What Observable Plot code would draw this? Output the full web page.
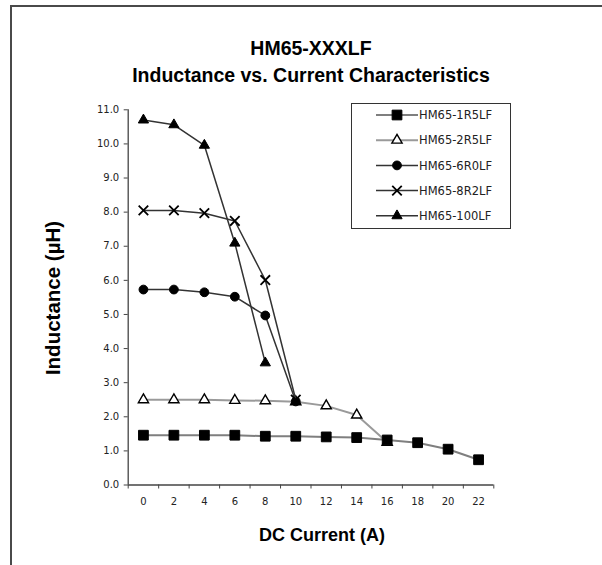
<!DOCTYPE html>
<html><head><meta charset="utf-8">
<script src="https://cdn.jsdelivr.net/npm/d3@7"></script>
<script src="https://cdn.jsdelivr.net/npm/@observablehq/plot@0.6"></script>
<style>
body{margin:0;background:#fff;}
#wrap{position:relative;width:602px;height:565px;overflow:hidden;background:#fff;font-family:"Liberation Sans",Arial,sans-serif;}
#frame{position:absolute;left:10px;top:5px;width:800px;height:800px;border-left:2px solid #4a4a4a;border-top:2px solid #4a4a4a;}
.title{position:absolute;left:11px;width:600px;text-align:center;font-weight:bold;font-size:19.5px;line-height:22px;color:#000;}
#xt{position:absolute;left:222px;width:200px;top:524px;text-align:center;font-weight:bold;font-size:18px;line-height:22px;}
#yt{position:absolute;left:-47px;top:287px;width:200px;text-align:center;font-weight:bold;font-size:20.5px;line-height:22px;transform:rotate(-90deg);}
#plot{position:absolute;left:0;top:95px;}
#legend{position:absolute;left:351px;top:103px;}
</style></head>
<body>
<div id="wrap">
  <div id="frame"></div>
  <div class="title" style="top:37px">HM65-XXXLF</div>
  <div class="title" style="top:64px">Inductance vs. Current Characteristics</div>
  <div id="plot"></div>
  <div id="xt">DC Current (A)</div>
  <div id="yt">Inductance (µH)</div>
  <div id="legend"></div>
</div>
<script>
// ---- data ----
const current = [0, 2, 4, 6, 8, 10, 12, 14, 16, 18, 20, 22];
const s1R5 = [1.46, 1.46, 1.46, 1.46, 1.43, 1.43, 1.41, 1.39, 1.32, 1.24, 1.05, 0.74];
const s2R5 = [2.50, 2.50, 2.50, 2.48, 2.47, 2.44, 2.32, 2.05, 1.25];
const s6R0 = [5.73, 5.73, 5.65, 5.52, 4.97, 2.45];
const s8R2 = [8.05, 8.05, 7.97, 7.74, 6.01, 2.50];
const s100 = [10.70, 10.56, 9.96, 7.09, 3.58];
const seriesNames = ["HM65-1R5LF", "HM65-2R5LF", "HM65-6R0LF", "HM65-8R2LF", "HM65-100LF"];
const xTicks = [0, 2, 4, 6, 8, 10, 12, 14, 16, 18, 20, 22];
const yTicks = [0, 1, 2, 3, 4, 5, 6, 7, 8, 9, 10, 11];

// ---- styles ----
const seriesValues = [s1R5, s2R5, s6R0, s8R2, s100];
const styles = [
  {symbol: "square",   r: 5.5, fill: "#000", stroke: "#000", sw: 1,   line: "#7f7f7f", lw: 2},
  {symbol: "triangle", r: 3.8, fill: "#fff", stroke: "#000", sw: 1.4, line: "#9a9a9a", lw: 2},
  {symbol: "circle",   r: 4.4, fill: "#000", stroke: "#000", sw: 1,   line: "#333",    lw: 1.5},
  {symbol: "times",    r: 4.4, fill: "none", stroke: "#000", sw: 1.8, line: "#333",    lw: 1.5},
  {symbol: "triangle", r: 3.8, fill: "#000", stroke: "#000", sw: 1,   line: "#333",    lw: 1.5}
];
const series = seriesNames.map((name, k) => ({
  name, style: styles[k],
  rows: seriesValues[k].map((v, i) => ({x: current[i], y: v}))
}));
// draw order (2R5 below 1R5)
const order = [1, 0, 2, 3, 4];

const boundaries = xTicks.map(d => d - 1).concat([xTicks[xTicks.length - 1] + 1]);

const marks = [
  Plot.axisY({ticks: yTicks, tickFormat: d => d.toFixed(1), tickSize: 4, tickPadding: 5, label: null, stroke: "#444"}),
  Plot.axisX({ticks: xTicks, tickSize: 0, tickPadding: 13, label: null}),
  Plot.axisX({ticks: boundaries, tickFormat: () => "", tickSize: 4, label: null, stroke: "#444"}),
  Plot.ruleY([0], {stroke: "#444", strokeWidth: 1.3}),
  Plot.ruleX([boundaries[0]], {stroke: "#444", strokeWidth: 1.3})
];
for (const k of order) {
  const s = series[k];
  marks.push(Plot.line(s.rows, {x: "x", y: "y", stroke: s.style.line, strokeWidth: s.style.lw}));
  marks.push(Plot.dot(s.rows, {x: "x", y: "y", symbol: () => s.style.symbol, r: s.style.r,
    fill: s.style.fill, stroke: s.style.stroke, strokeWidth: s.style.sw}));
}

const chart = Plot.plot({
  width: 602, height: 470,
  marginLeft: 127.7, marginRight: 108.7, marginTop: 14.3, marginBottom: 80.5,
  x: {type: "linear", domain: [boundaries[0], boundaries[boundaries.length - 1]]},
  y: {domain: [0, 11]},
  symbol: {type: "identity"},
  style: {fontFamily: "DejaVu Sans", fontSize: "10px", color: "#222", background: "transparent", overflow: "visible"},
  marks
});
document.getElementById("plot").appendChild(chart);

// ---- legend ----
const lw = 160, lh = 126;
const leg = d3.create("svg").attr("width", lw).attr("height", lh);
leg.append("rect").attr("x", 0.5).attr("y", 0.5).attr("width", lw - 1).attr("height", lh - 1)
  .attr("fill", "#fff").attr("stroke", "#333").attr("stroke-width", 1);
const symMap = {square: d3.symbolSquare, triangle: d3.symbolTriangle, circle: d3.symbolCircle, times: d3.symbolTimes};
series.forEach((s, k) => {
  const cy = 12 + k * 25.2;
  const g = leg.append("g");
  g.append("line").attr("x1", 25).attr("x2", 67).attr("y1", cy).attr("y2", cy)
    .attr("stroke", s.style.line).attr("stroke-width", s.style.lw);
  g.append("path").attr("transform", `translate(46,${cy})`)
    .attr("d", d3.symbol(symMap[s.style.symbol], Math.PI * s.style.r * s.style.r)())
    .attr("fill", s.style.fill).attr("stroke", s.style.stroke).attr("stroke-width", s.style.sw);
  g.append("text").attr("x", 68).attr("y", cy).attr("dy", "0.36em")
    .attr("font-family", "DejaVu Sans").attr("font-size", "11.5px").attr("fill", "#222").text(s.name);
});
document.getElementById("legend").appendChild(leg.node());
</script>
</body></html>
